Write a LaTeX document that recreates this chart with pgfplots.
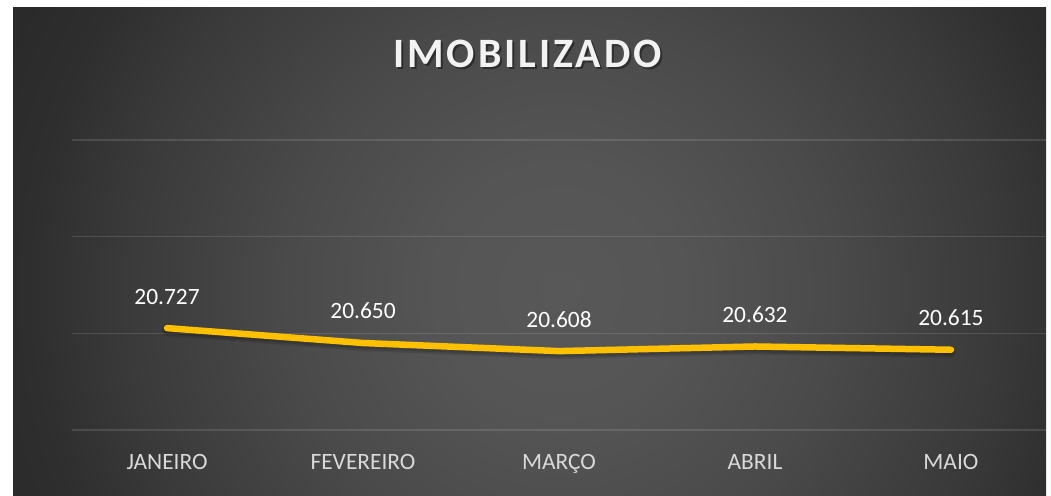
\documentclass[border=0pt]{standalone}
\usepackage{pgfplots}
\pgfplotsset{compat=1.18}
\usepackage{fontspec}
\setmainfont{Carlito}
\newfontfamily\titlefont[LetterSpace=7]{Carlito}
\definecolor{bg0}{RGB}{88,88,88}
\definecolor{bg1}{RGB}{85,85,85}
\definecolor{bg2}{RGB}{74,74,74}
\definecolor{bg3}{RGB}{58,58,58}
\definecolor{bg4}{RGB}{46,46,46}
\definecolor{bg5}{RGB}{41,41,41}
\definecolor{linecol}{RGB}{255,192,0}
\definecolor{lblgray}{RGB}{217,217,217}
\definecolor{titlegray}{RGB}{242,242,242}
\pgfdeclareradialshading{bgshade}{\pgfpoint{0bp}{0bp}}{color(0bp)=(bg0); color(5bp)=(bg1); color(11bp)=(bg2); color(17.5bp)=(bg3); color(21.5bp)=(bg4); color(25bp)=(bg5); color(50bp)=(bg5)}
\begin{document}
\begin{tikzpicture}
\useasboundingbox (0bp,0bp) rectangle (1051bp,496bp);
\fill[white] (0bp,0bp) rectangle (1051bp,496bp);
\begin{scope}
\clip (13bp,0bp) rectangle (1046bp,488bp);
\shade[shading=bgshade] (-60bp,-414bp) rectangle (1180bp,826bp);
\end{scope}
\node[anchor=base, text=black, opacity=0.4, inner sep=0] at (529.5bp,426bp) {\titlefont\bfseries\fontsize{42}{50}\selectfont IMOBILIZADO};
\node[anchor=base, text=titlegray, inner sep=0] at (527.5bp,428bp) {\titlefont\bfseries\fontsize{42}{50}\selectfont IMOBILIZADO};
\begin{axis}[
  at={(72bp,66bp)}, anchor=south west, scale only axis,
  width=974bp, height=290bp,
  xmin=-0.485, xmax=4.485, ymin=20.2, ymax=21.7,
  xtick={0,1,2,3,4},
  xticklabels={JANEIRO,FEVEREIRO,MARÇO,ABRIL,MAIO},
  ytick={20.2,20.7,21.2,21.7},
  yticklabels={},
  axis line style={draw=none},
  major tick length=0pt,
  ymajorgrids,
  grid style={draw=white, draw opacity=0.12, line width=1.5bp},
  xticklabel style={font=\fontsize{23.5}{26}\selectfont, text=lblgray, anchor=base, inner sep=0pt, yshift=-39bp},
  clip=false,
]
\addplot[black, draw opacity=0.12, line width=10bp, line cap=round, line join=round, mark=none, yshift=-3bp, forget plot]
  coordinates {(0,20.727) (1,20.650) (2,20.608) (3,20.632) (4,20.615)};
\addplot[black, draw opacity=0.15, line width=7bp, line cap=round, line join=round, mark=none, yshift=-2.5bp, forget plot]
  coordinates {(0,20.727) (1,20.650) (2,20.608) (3,20.632) (4,20.615)};
\addplot[linecol, line width=6.5bp, line cap=round, line join=round, mark=none,
  point meta=explicit symbolic, nodes near coords,
  every node near coord/.append style={anchor=base, yshift=24bp, text=white, inner sep=0pt, font=\fontsize{23.5}{26}\selectfont}]
  coordinates {(0,20.727) [20.727] (1,20.650) [20.650] (2,20.608) [20.608] (3,20.632) [20.632] (4,20.615) [20.615]};
\end{axis}
\end{tikzpicture}
\end{document}
